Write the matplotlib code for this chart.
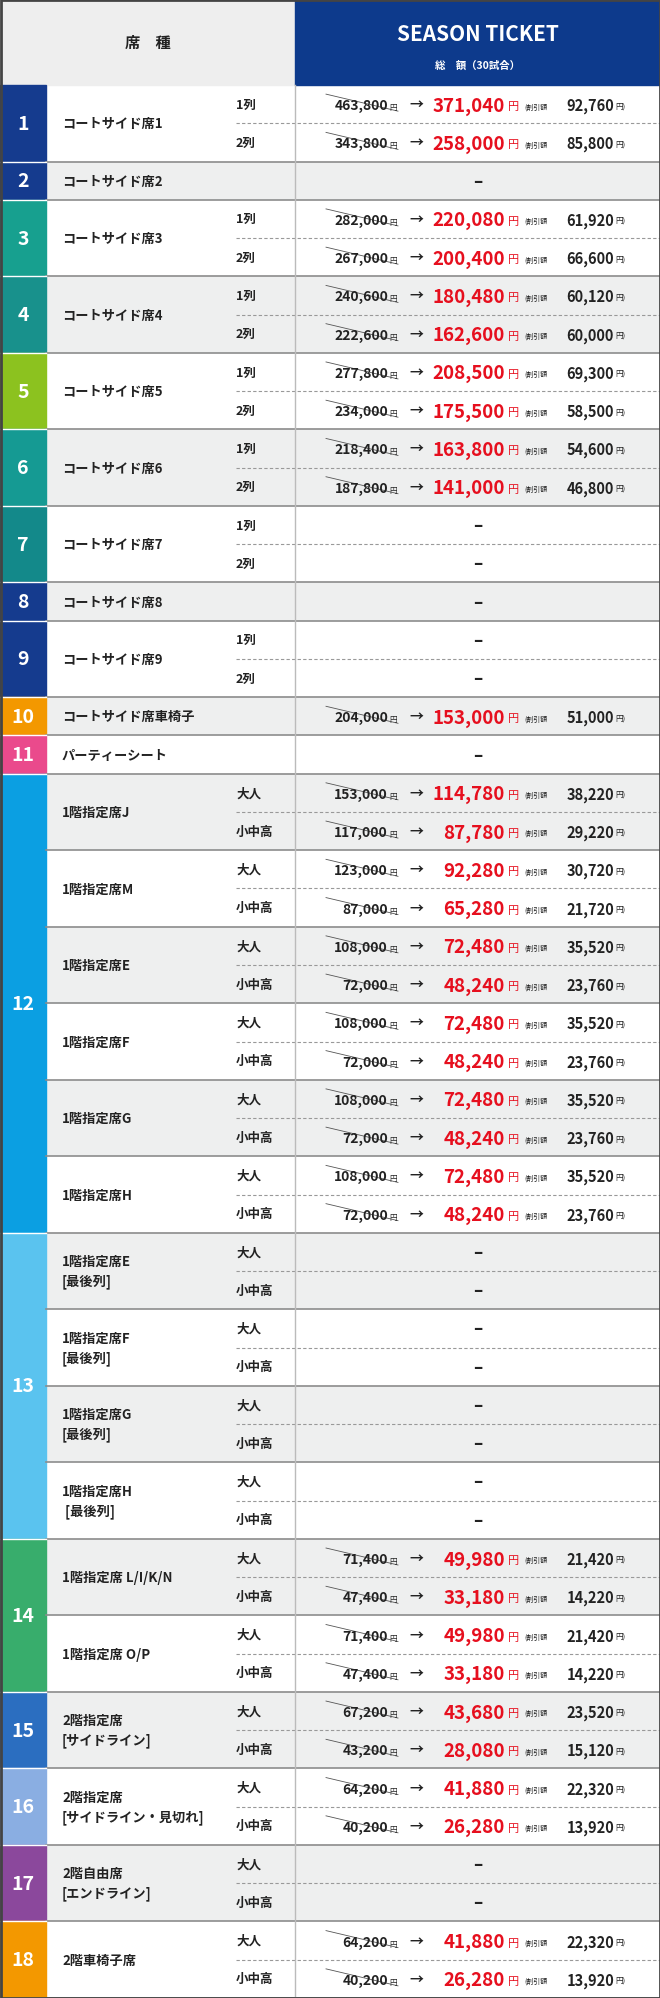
import matplotlib
matplotlib.use("Agg")
import matplotlib.pyplot as plt
from matplotlib.patches import Rectangle

plt.rcParams['font.family'] = ['Noto Sans CJK JP', 'DejaVu Sans']

# ---- data ----
group_nums = [str(i) for i in range(1, 19)]
group_colors = ['#153b8e', '#153b8e', '#17a08f', '#18918c', '#8cc21f', '#159a93',
                '#13898a', '#153b8e', '#153b8e', '#f39800', '#ea4a8c', '#0b9fe2',
                '#5ac3ef', '#38ad6c', '#2b6ec0', '#8aaee2', '#8b489c', '#f39800']

# one entry per seat block: group index, name, sub-row labels, regular price, season price
leaf_group = [0, 1, 2, 3, 4, 5, 6, 7, 8, 9, 10,
              11, 11, 11, 11, 11, 11, 12, 12, 12, 12, 13, 13, 14, 15, 16, 17]
leaf_name = ['コートサイド席1', 'コートサイド席2', 'コートサイド席3', 'コートサイド席4',
             'コートサイド席5', 'コートサイド席6', 'コートサイド席7', 'コートサイド席8',
             'コートサイド席9', 'コートサイド席車椅子', 'パーティーシート',
             '1階指定席J', '1階指定席M', '1階指定席E', '1階指定席F', '1階指定席G', '1階指定席H',
             '1階指定席E\n[最後列]', '1階指定席F\n[最後列]', '1階指定席G\n[最後列]', '1階指定席H\n [最後列]',
             '1階指定席 L/I/K/N', '1階指定席 O/P',
             '2階指定席\n[サイドライン]', '2階指定席\n[サイドライン・見切れ]',
             '2階自由席\n[エンドライン]', '2階車椅子席']
ROW2 = ['1列', '2列']
AGE = ['大人', '小中高']
leaf_subs = [ROW2, [''], ROW2, ROW2, ROW2, ROW2, ROW2, [''], ROW2, [''], [''],
             AGE, AGE, AGE, AGE, AGE, AGE, AGE, AGE, AGE, AGE, AGE, AGE, AGE, AGE, AGE, AGE]
regular = [[463800, 343800], [None], [282000, 267000], [240600, 222600],
           [277800, 234000], [218400, 187800], [None, None], [None], [None, None],
           [204000], [None],
           [153000, 117000], [123000, 87000], [108000, 72000], [108000, 72000],
           [108000, 72000], [108000, 72000],
           [None, None], [None, None], [None, None], [None, None],
           [71400, 47400], [71400, 47400], [67200, 43200], [64200, 40200],
           [None, None], [64200, 40200]]
season = [[371040, 258000], [None], [220080, 200400], [180480, 162600],
          [208500, 175500], [163800, 141000], [None, None], [None], [None, None],
          [153000], [None],
          [114780, 87780], [92280, 65280], [72480, 48240], [72480, 48240],
          [72480, 48240], [72480, 48240],
          [None, None], [None, None], [None, None], [None, None],
          [49980, 33180], [49980, 33180], [43680, 28080], [41880, 26280],
          [None, None], [41880, 26280]]

# ---- layout ----
W, H = 660, 1999
HEAD = 86
total_rows = sum(len(s) for s in leaf_subs)
RH = (H - HEAD) / total_rows
X_NUM, X_SUB, X_PRICE = 46, 236, 295
RED = '#e60f1e'

fig = plt.figure(figsize=(W / 100, H / 100), dpi=100)
ax = fig.add_axes([0, 0, 1, 1])
ax.set_xlim(0, W)
ax.set_ylim(H, 0)
ax.axis('off')

# header
ax.add_patch(Rectangle((0, 0), X_PRICE, HEAD, color='#eeeeee'))
ax.add_patch(Rectangle((X_PRICE, 0), W - X_PRICE, HEAD, color='#0d3a8c'))
ax.text(X_PRICE / 2, HEAD / 2, '席　種', ha='center', va='center', fontsize=11, fontweight='bold', color='#222')
ax.text((X_PRICE + W) / 2, 34, 'SEASON TICKET', ha='center', va='center', fontsize=15,
        fontweight='bold', color='white')
ax.text((X_PRICE + W) / 2, 66, '総　額（30試合）', ha='center', va='center', fontsize=7.5,
        fontweight='bold', color='white')

y = HEAD
group_span = {}
for i in range(len(leaf_name)):
    n = len(leaf_subs[i])
    h = n * RH
    bg = '#ffffff' if i % 2 == 0 else '#eeefef'
    ax.add_patch(Rectangle((X_NUM, y), W - X_NUM, h, color=bg, zorder=0))
    ax.text(62, y + h / 2, leaf_name[i], ha='left', va='center', fontsize=9.5,
            fontweight='bold', color='#222', linespacing=1.5)
    g = leaf_group[i]
    lo, hi = group_span.get(g, (y, y + h))
    group_span[g] = (min(lo, y), y + h)
    for j in range(n):
        yc = y + (j + 0.5) * RH
        if leaf_subs[i][j]:
            ax.text(X_SUB, yc, leaf_subs[i][j], ha='left', va='center', fontsize=9,
                    fontweight='bold', color='#222')
        r, s = regular[i][j], season[i][j]
        if r is None:
            ax.text((X_PRICE + W) / 2, yc, '–', ha='center', va='center', fontsize=12,
                    fontweight='bold', color='#222')
        else:
            ax.text(388, yc + 1, f'{r:,}', ha='right', va='center', fontsize=10,
                    fontweight='bold', color='#222')
            ax.text(389, yc + 3, '円', ha='left', va='center', fontsize=5.5, color='#222')
            ax.plot([326, 398], [yc - 10, yc + 7], color='#555', lw=0.6)
            ax.text(416, yc, '→', ha='center', va='center', fontsize=10,
                    fontweight='bold', color='#222')
            ax.text(505, yc + 1, f'{s:,}', ha='right', va='center', fontsize=13.5,
                    fontweight='bold', color=RED)
            ax.text(508, yc + 2, '円', ha='left', va='center', fontsize=8, color=RED)
            ax.text(524, yc + 2, '(割引額', ha='left', va='center', fontsize=5, color='#222')
            ax.text(614, yc + 1, f'{r - s:,}', ha='right', va='center', fontsize=10.5,
                    fontweight='bold', color='#222')
            ax.text(615, yc + 2, '円)', ha='left', va='center', fontsize=5.5, color='#222')
        if j < n - 1:
            ax.plot([X_SUB, W], [y + (j + 1) * RH] * 2, color='#999', lw=0.8,
                    ls=(0, (3, 2)), zorder=2)
    ax.plot([X_NUM, W], [y + h] * 2, color='#8c8c8c', lw=1.2, zorder=3)
    y += h

for g, (lo, hi) in group_span.items():
    ax.add_patch(Rectangle((0, lo), X_NUM, hi - lo, color=group_colors[g], zorder=1))
    ax.text(X_NUM / 2, (lo + hi) / 2, group_nums[g], ha='center', va='center',
            fontsize=14, fontweight='bold', color='white', zorder=4)
    ax.plot([0, X_NUM], [hi, hi], color='#ffffff', lw=1, zorder=3)

ax.plot([X_PRICE, X_PRICE], [HEAD, H], color='#bbbbbb', lw=1, zorder=3)
ax.add_patch(Rectangle((0.5, 0.5), W - 1, H - 1, fill=False, ec='#444', lw=2, zorder=5))

fig.savefig('out.png', dpi=100)
